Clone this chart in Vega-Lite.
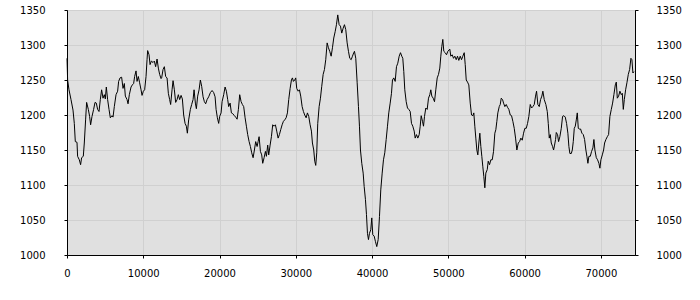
{
  "$schema": "https://vega.github.io/schema/vega-lite/v6.json",
  "width": 568,
  "height": 245,
  "autosize": "none",
  "padding": {"left": 67, "top": 10, "right": 65, "bottom": 45},
  "background": "#ffffff",
  "config": {
    "view": {"fill": "#e0e0e0", "stroke": "#000000", "strokeWidth": 1},
    "axis": {
      "labelFont": "DejaVu Sans",
      "labelFontSize": 10,
      "labelColor": "#000000",
      "labelFlush": false,
      "labelOverlap": false,
      "domainColor": "#000000",
      "tickColor": "#000000",
      "tickSize": 3,
      "gridColor": "#d0d0d0",
      "gridWidth": 1,
      "title": null
    }
  },
  "data": {
    "values": [
      {"x": 0, "y": 1281}, {"x": 80, "y": 1250}, {"x": 262, "y": 1236}, {"x": 525, "y": 1222},
      {"x": 787, "y": 1207}, {"x": 958, "y": 1188}, {"x": 1089, "y": 1162}, {"x": 1312, "y": 1161},
      {"x": 1391, "y": 1141}, {"x": 1614, "y": 1136}, {"x": 1784, "y": 1129}, {"x": 1916, "y": 1139},
      {"x": 2139, "y": 1141}, {"x": 2270, "y": 1160}, {"x": 2440, "y": 1193}, {"x": 2572, "y": 1218},
      {"x": 2795, "y": 1208}, {"x": 2965, "y": 1198}, {"x": 3096, "y": 1186}, {"x": 3280, "y": 1198},
      {"x": 3490, "y": 1208}, {"x": 3674, "y": 1218}, {"x": 3844, "y": 1217}, {"x": 4015, "y": 1208},
      {"x": 4198, "y": 1205}, {"x": 4369, "y": 1222}, {"x": 4540, "y": 1236}, {"x": 4723, "y": 1224},
      {"x": 4894, "y": 1229}, {"x": 5025, "y": 1223}, {"x": 5156, "y": 1240}, {"x": 5327, "y": 1222},
      {"x": 5510, "y": 1208}, {"x": 5681, "y": 1196}, {"x": 5904, "y": 1199}, {"x": 6035, "y": 1197},
      {"x": 6206, "y": 1212}, {"x": 6429, "y": 1229}, {"x": 6639, "y": 1234}, {"x": 6770, "y": 1248},
      {"x": 6954, "y": 1253}, {"x": 7164, "y": 1254}, {"x": 7347, "y": 1238}, {"x": 7518, "y": 1245},
      {"x": 7649, "y": 1227}, {"x": 7872, "y": 1222}, {"x": 8003, "y": 1216}, {"x": 8174, "y": 1229},
      {"x": 8397, "y": 1240}, {"x": 8567, "y": 1243}, {"x": 8738, "y": 1245}, {"x": 8869, "y": 1255},
      {"x": 9053, "y": 1263}, {"x": 9184, "y": 1248}, {"x": 9355, "y": 1255}, {"x": 9525, "y": 1246},
      {"x": 9709, "y": 1236}, {"x": 9840, "y": 1228}, {"x": 10011, "y": 1234}, {"x": 10181, "y": 1236},
      {"x": 10365, "y": 1255}, {"x": 10496, "y": 1279}, {"x": 10575, "y": 1292}, {"x": 10758, "y": 1286},
      {"x": 10890, "y": 1272}, {"x": 11060, "y": 1277}, {"x": 11283, "y": 1275}, {"x": 11454, "y": 1277},
      {"x": 11624, "y": 1269}, {"x": 11808, "y": 1280}, {"x": 11979, "y": 1267}, {"x": 12149, "y": 1258},
      {"x": 12333, "y": 1252}, {"x": 12412, "y": 1253}, {"x": 12595, "y": 1265}, {"x": 12766, "y": 1269},
      {"x": 12936, "y": 1255}, {"x": 13120, "y": 1253}, {"x": 13290, "y": 1231}, {"x": 13461, "y": 1222},
      {"x": 13592, "y": 1215}, {"x": 13776, "y": 1236}, {"x": 13907, "y": 1249}, {"x": 14078, "y": 1236},
      {"x": 14248, "y": 1218}, {"x": 14432, "y": 1222}, {"x": 14602, "y": 1229}, {"x": 14773, "y": 1222},
      {"x": 14957, "y": 1228}, {"x": 15127, "y": 1223}, {"x": 15298, "y": 1200}, {"x": 15482, "y": 1188},
      {"x": 15652, "y": 1184}, {"x": 15783, "y": 1174}, {"x": 15954, "y": 1193}, {"x": 16177, "y": 1208},
      {"x": 16347, "y": 1215}, {"x": 16531, "y": 1222}, {"x": 16662, "y": 1236}, {"x": 16833, "y": 1217},
      {"x": 16964, "y": 1209}, {"x": 17135, "y": 1227}, {"x": 17318, "y": 1236}, {"x": 17489, "y": 1250},
      {"x": 17660, "y": 1241}, {"x": 17843, "y": 1226}, {"x": 18014, "y": 1219}, {"x": 18184, "y": 1216},
      {"x": 18368, "y": 1222}, {"x": 18578, "y": 1226}, {"x": 18801, "y": 1232}, {"x": 19024, "y": 1235},
      {"x": 19234, "y": 1232}, {"x": 19418, "y": 1226}, {"x": 19549, "y": 1208}, {"x": 19720, "y": 1196},
      {"x": 19890, "y": 1188}, {"x": 20021, "y": 1198}, {"x": 20205, "y": 1203}, {"x": 20336, "y": 1219},
      {"x": 20546, "y": 1229}, {"x": 20730, "y": 1240}, {"x": 20900, "y": 1234}, {"x": 21071, "y": 1222},
      {"x": 21202, "y": 1212}, {"x": 21386, "y": 1217}, {"x": 21556, "y": 1203}, {"x": 21727, "y": 1202},
      {"x": 21950, "y": 1199}, {"x": 22120, "y": 1197}, {"x": 22304, "y": 1194}, {"x": 22475, "y": 1208},
      {"x": 22645, "y": 1229}, {"x": 22829, "y": 1219}, {"x": 22999, "y": 1215}, {"x": 23170, "y": 1212},
      {"x": 23354, "y": 1196}, {"x": 23524, "y": 1184}, {"x": 23695, "y": 1172}, {"x": 23878, "y": 1162},
      {"x": 24049, "y": 1155}, {"x": 24220, "y": 1146}, {"x": 24403, "y": 1139}, {"x": 24574, "y": 1150},
      {"x": 24744, "y": 1162}, {"x": 24928, "y": 1155}, {"x": 25059, "y": 1162}, {"x": 25190, "y": 1169},
      {"x": 25361, "y": 1148}, {"x": 25532, "y": 1143}, {"x": 25663, "y": 1131}, {"x": 25846, "y": 1139},
      {"x": 26017, "y": 1148}, {"x": 26148, "y": 1141}, {"x": 26319, "y": 1157}, {"x": 26450, "y": 1143},
      {"x": 26634, "y": 1157}, {"x": 26804, "y": 1169}, {"x": 26975, "y": 1186}, {"x": 27158, "y": 1184},
      {"x": 27329, "y": 1186}, {"x": 27500, "y": 1177}, {"x": 27683, "y": 1167}, {"x": 27854, "y": 1172},
      {"x": 28024, "y": 1179}, {"x": 28208, "y": 1186}, {"x": 28379, "y": 1191}, {"x": 28549, "y": 1193},
      {"x": 28733, "y": 1196}, {"x": 28904, "y": 1203}, {"x": 29074, "y": 1222}, {"x": 29258, "y": 1238},
      {"x": 29428, "y": 1250}, {"x": 29560, "y": 1253}, {"x": 29691, "y": 1248}, {"x": 29861, "y": 1250},
      {"x": 29992, "y": 1253}, {"x": 30124, "y": 1238}, {"x": 30307, "y": 1234}, {"x": 30478, "y": 1236},
      {"x": 30648, "y": 1227}, {"x": 30832, "y": 1212}, {"x": 31003, "y": 1205}, {"x": 31173, "y": 1200},
      {"x": 31357, "y": 1196}, {"x": 31527, "y": 1203}, {"x": 31698, "y": 1198}, {"x": 31882, "y": 1186},
      {"x": 32052, "y": 1177}, {"x": 32183, "y": 1160}, {"x": 32354, "y": 1150}, {"x": 32485, "y": 1134},
      {"x": 32617, "y": 1128}, {"x": 32748, "y": 1146}, {"x": 32879, "y": 1188}, {"x": 33062, "y": 1212},
      {"x": 33233, "y": 1224}, {"x": 33404, "y": 1241}, {"x": 33587, "y": 1258}, {"x": 33758, "y": 1265},
      {"x": 33928, "y": 1279}, {"x": 34112, "y": 1303}, {"x": 34283, "y": 1296}, {"x": 34453, "y": 1291},
      {"x": 34637, "y": 1284}, {"x": 34807, "y": 1296}, {"x": 34978, "y": 1310}, {"x": 35162, "y": 1319},
      {"x": 35332, "y": 1329}, {"x": 35503, "y": 1343}, {"x": 35686, "y": 1329}, {"x": 35857, "y": 1327},
      {"x": 36028, "y": 1317}, {"x": 36211, "y": 1324}, {"x": 36382, "y": 1329}, {"x": 36552, "y": 1322},
      {"x": 36736, "y": 1303}, {"x": 36907, "y": 1291}, {"x": 37077, "y": 1281}, {"x": 37261, "y": 1279},
      {"x": 37431, "y": 1284}, {"x": 37602, "y": 1289}, {"x": 37694, "y": 1291}, {"x": 37865, "y": 1281},
      {"x": 38048, "y": 1246}, {"x": 38219, "y": 1212}, {"x": 38350, "y": 1184}, {"x": 38481, "y": 1150},
      {"x": 38652, "y": 1131}, {"x": 38836, "y": 1117}, {"x": 38967, "y": 1098}, {"x": 39137, "y": 1079},
      {"x": 39268, "y": 1058}, {"x": 39399, "y": 1031}, {"x": 39531, "y": 1022}, {"x": 39662, "y": 1031},
      {"x": 39832, "y": 1036}, {"x": 39963, "y": 1053}, {"x": 40095, "y": 1029}, {"x": 40278, "y": 1027},
      {"x": 40449, "y": 1019}, {"x": 40619, "y": 1012}, {"x": 40803, "y": 1022}, {"x": 40974, "y": 1055},
      {"x": 41144, "y": 1093}, {"x": 41328, "y": 1117}, {"x": 41498, "y": 1136}, {"x": 41669, "y": 1146},
      {"x": 41853, "y": 1165}, {"x": 42023, "y": 1184}, {"x": 42194, "y": 1203}, {"x": 42378, "y": 1217},
      {"x": 42548, "y": 1231}, {"x": 42679, "y": 1250}, {"x": 42850, "y": 1253}, {"x": 43034, "y": 1248},
      {"x": 43204, "y": 1269}, {"x": 43375, "y": 1274}, {"x": 43558, "y": 1284}, {"x": 43729, "y": 1289},
      {"x": 43900, "y": 1284}, {"x": 44031, "y": 1281}, {"x": 44162, "y": 1262}, {"x": 44293, "y": 1236},
      {"x": 44477, "y": 1219}, {"x": 44647, "y": 1210}, {"x": 44818, "y": 1208}, {"x": 45002, "y": 1205},
      {"x": 45172, "y": 1188}, {"x": 45343, "y": 1184}, {"x": 45526, "y": 1177}, {"x": 45658, "y": 1167},
      {"x": 45828, "y": 1172}, {"x": 45999, "y": 1167}, {"x": 46182, "y": 1172}, {"x": 46314, "y": 1184},
      {"x": 46445, "y": 1199}, {"x": 46615, "y": 1191}, {"x": 46747, "y": 1184}, {"x": 46878, "y": 1198},
      {"x": 47048, "y": 1210}, {"x": 47232, "y": 1208}, {"x": 47403, "y": 1224}, {"x": 47573, "y": 1229},
      {"x": 47704, "y": 1236}, {"x": 47836, "y": 1227}, {"x": 48019, "y": 1224}, {"x": 48190, "y": 1219},
      {"x": 48360, "y": 1236}, {"x": 48544, "y": 1253}, {"x": 48715, "y": 1258}, {"x": 48885, "y": 1267},
      {"x": 49016, "y": 1284}, {"x": 49148, "y": 1298}, {"x": 49279, "y": 1308}, {"x": 49410, "y": 1291},
      {"x": 49594, "y": 1289}, {"x": 49764, "y": 1286}, {"x": 49935, "y": 1291}, {"x": 50197, "y": 1294},
      {"x": 50328, "y": 1284}, {"x": 50512, "y": 1286}, {"x": 50683, "y": 1281}, {"x": 50853, "y": 1284},
      {"x": 51037, "y": 1279}, {"x": 51207, "y": 1284}, {"x": 51378, "y": 1278}, {"x": 51562, "y": 1284},
      {"x": 51732, "y": 1279}, {"x": 51903, "y": 1284}, {"x": 52086, "y": 1289}, {"x": 52218, "y": 1272},
      {"x": 52349, "y": 1250}, {"x": 52519, "y": 1247}, {"x": 52690, "y": 1243}, {"x": 52874, "y": 1217},
      {"x": 53044, "y": 1200}, {"x": 53215, "y": 1199}, {"x": 53346, "y": 1203}, {"x": 53477, "y": 1184},
      {"x": 53608, "y": 1167}, {"x": 53740, "y": 1150}, {"x": 53871, "y": 1143}, {"x": 54002, "y": 1160},
      {"x": 54133, "y": 1174}, {"x": 54264, "y": 1155}, {"x": 54395, "y": 1141}, {"x": 54527, "y": 1126},
      {"x": 54658, "y": 1112}, {"x": 54789, "y": 1096}, {"x": 54920, "y": 1117}, {"x": 55104, "y": 1122},
      {"x": 55235, "y": 1134}, {"x": 55406, "y": 1129}, {"x": 55576, "y": 1136}, {"x": 55760, "y": 1136},
      {"x": 55931, "y": 1148}, {"x": 56101, "y": 1174}, {"x": 56232, "y": 1179}, {"x": 56364, "y": 1191},
      {"x": 56495, "y": 1203}, {"x": 56678, "y": 1212}, {"x": 56810, "y": 1215}, {"x": 56941, "y": 1224},
      {"x": 57112, "y": 1222}, {"x": 57243, "y": 1217}, {"x": 57413, "y": 1212}, {"x": 57597, "y": 1215},
      {"x": 57767, "y": 1211}, {"x": 57938, "y": 1208}, {"x": 58122, "y": 1200}, {"x": 58292, "y": 1199},
      {"x": 58463, "y": 1191}, {"x": 58646, "y": 1181}, {"x": 58817, "y": 1167}, {"x": 58988, "y": 1150},
      {"x": 59171, "y": 1160}, {"x": 59342, "y": 1162}, {"x": 59512, "y": 1167}, {"x": 59696, "y": 1164},
      {"x": 59867, "y": 1174}, {"x": 60037, "y": 1181}, {"x": 60221, "y": 1181}, {"x": 60391, "y": 1188},
      {"x": 60562, "y": 1198}, {"x": 60746, "y": 1215}, {"x": 60916, "y": 1210}, {"x": 61087, "y": 1212},
      {"x": 61270, "y": 1215}, {"x": 61441, "y": 1227}, {"x": 61572, "y": 1234}, {"x": 61743, "y": 1215},
      {"x": 61926, "y": 1212}, {"x": 62097, "y": 1222}, {"x": 62268, "y": 1227}, {"x": 62399, "y": 1234},
      {"x": 62582, "y": 1222}, {"x": 62792, "y": 1215}, {"x": 62976, "y": 1205}, {"x": 63107, "y": 1188},
      {"x": 63238, "y": 1167}, {"x": 63370, "y": 1172}, {"x": 63501, "y": 1160}, {"x": 63672, "y": 1155},
      {"x": 63803, "y": 1150}, {"x": 63934, "y": 1157}, {"x": 64065, "y": 1165}, {"x": 64157, "y": 1175},
      {"x": 64327, "y": 1172}, {"x": 64459, "y": 1162}, {"x": 64629, "y": 1169}, {"x": 64813, "y": 1181},
      {"x": 64983, "y": 1198}, {"x": 65154, "y": 1199}, {"x": 65338, "y": 1197}, {"x": 65508, "y": 1188},
      {"x": 65679, "y": 1174}, {"x": 65810, "y": 1155}, {"x": 65941, "y": 1145}, {"x": 66125, "y": 1145},
      {"x": 66256, "y": 1150}, {"x": 66387, "y": 1162}, {"x": 66518, "y": 1181}, {"x": 66650, "y": 1184},
      {"x": 66781, "y": 1193}, {"x": 66912, "y": 1203}, {"x": 67043, "y": 1181}, {"x": 67174, "y": 1180},
      {"x": 67345, "y": 1180}, {"x": 67516, "y": 1174}, {"x": 67699, "y": 1172}, {"x": 67870, "y": 1165},
      {"x": 68040, "y": 1150}, {"x": 68172, "y": 1141}, {"x": 68303, "y": 1131}, {"x": 68434, "y": 1141},
      {"x": 68618, "y": 1141}, {"x": 68788, "y": 1148}, {"x": 68959, "y": 1153}, {"x": 69090, "y": 1165},
      {"x": 69221, "y": 1150}, {"x": 69405, "y": 1139}, {"x": 69575, "y": 1136}, {"x": 69746, "y": 1131},
      {"x": 69877, "y": 1124}, {"x": 70008, "y": 1136}, {"x": 70192, "y": 1143}, {"x": 70363, "y": 1150},
      {"x": 70494, "y": 1160}, {"x": 70664, "y": 1165}, {"x": 70848, "y": 1169}, {"x": 71018, "y": 1172},
      {"x": 71189, "y": 1198}, {"x": 71373, "y": 1208}, {"x": 71543, "y": 1217}, {"x": 71714, "y": 1229},
      {"x": 71898, "y": 1243}, {"x": 72029, "y": 1247}, {"x": 72160, "y": 1224}, {"x": 72331, "y": 1227},
      {"x": 72501, "y": 1234}, {"x": 72685, "y": 1229}, {"x": 72816, "y": 1231}, {"x": 72947, "y": 1208},
      {"x": 73078, "y": 1222}, {"x": 73249, "y": 1236}, {"x": 73420, "y": 1246}, {"x": 73603, "y": 1258},
      {"x": 73774, "y": 1265}, {"x": 73944, "y": 1281}, {"x": 74076, "y": 1279}, {"x": 74207, "y": 1260},
      {"x": 74338, "y": 1262}
    ]
  },
  "layer": [
    {
      "mark": {"type": "line", "color": "#000000", "strokeWidth": 1, "interpolate": "linear"},
      "encoding": {
        "x": {
          "field": "x", "type": "quantitative",
          "scale": {"domain": [0, 74480], "nice": false, "zero": false},
          "axis": {"values": [0, 10000, 20000, 30000, 40000, 50000, 60000, 70000], "labelPadding": 10, "grid": true, "format": "d"}
        },
        "y": {
          "field": "y", "type": "quantitative",
          "scale": {"domain": [1000, 1350], "nice": false, "zero": false},
          "axis": {"values": [1000, 1050, 1100, 1150, 1200, 1250, 1300, 1350], "orient": "left", "labelPadding": 19, "grid": true, "format": "d"}
        }
      }
    },
    {
      "mark": {"type": "line", "color": "#000000", "strokeWidth": 1, "opacity": 0},
      "encoding": {
        "x": {"field": "x", "type": "quantitative"},
        "y": {
          "field": "y", "type": "quantitative",
          "axis": {"values": [1000, 1050, 1100, 1150, 1200, 1250, 1300, 1350], "orient": "right", "labelPadding": 18, "grid": false, "format": "d"}
        }
      }
    }
  ],
  "resolve": {"axis": {"y": "independent"}}
}
